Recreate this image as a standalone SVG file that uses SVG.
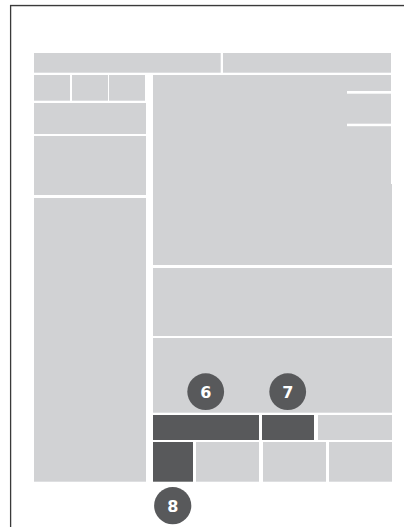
<svg xmlns="http://www.w3.org/2000/svg" width="404" height="527" viewBox="0 0 404 527">
<style>
.b{fill:#d1d2d4}
.d{fill:#58595b}
.c{fill:#58595b}
.t{fill:#ffffff;font-family:"DejaVu Sans","Liberation Sans",sans-serif;font-weight:bold;font-size:16px;text-anchor:middle}
</style>
<rect width="404" height="527" fill="#ffffff"/>
<g id="frame">
<line x1="10" y1="4.5" x2="404" y2="4.5" stroke="#e2e2e2" stroke-width="1"/>
<path d="M10.6,527 V5.6 H404" fill="none" stroke="#3a3a3a" stroke-width="1.3"/>
</g>
<g id="top-left"><rect class="b" x="34" y="53" width="186.7" height="19.7"/></g>
<g id="top-right"><rect class="b" x="223" y="53" width="168" height="19.7"/></g>
<g id="small-1"><rect class="b" x="34" y="75" width="36" height="25.7"/></g>
<g id="small-2"><rect class="b" x="72" y="75" width="36" height="25.7"/></g>
<g id="small-3"><rect class="b" x="109" y="75" width="36" height="25.7"/></g>
<g id="left-1"><rect class="b" x="34" y="103" width="112" height="31"/></g>
<g id="left-2"><rect class="b" x="34" y="136" width="112" height="59"/></g>
<g id="left-3"><rect class="b" x="34" y="198" width="112" height="283.7"/></g>
<g id="main">
<rect class="b" x="153" y="75" width="238" height="190"/>
<rect class="b" x="390" y="184" width="2" height="81"/>
<rect fill="#ffffff" x="347" y="91" width="44" height="2.7"/>
<rect fill="#ffffff" x="347" y="123.7" width="44" height="2.5"/>
</g>
<g id="right-2"><rect class="b" x="153" y="268" width="239" height="68"/></g>
<g id="right-3"><rect class="b" x="153" y="338" width="239" height="74.7"/></g>
<g id="bar-6"><rect class="d" x="153" y="415" width="106" height="25"/></g>
<g id="bar-7"><rect class="d" x="262" y="415" width="52" height="25"/></g>
<g id="bar-light"><rect class="b" x="318" y="415" width="74" height="25"/></g>
<g id="cell-8"><rect class="d" x="153" y="442" width="40" height="39.7"/></g>
<g id="cell-2"><rect class="b" x="196" y="442" width="63" height="39.7"/></g>
<g id="cell-3"><rect class="b" x="263" y="442" width="63" height="39.7"/></g>
<g id="cell-4"><rect class="b" x="329" y="442" width="63" height="39.7"/></g>
<g id="badge-6"><circle class="c" cx="205.7" cy="391.7" r="18.4"/><text class="t" x="205.7" y="397.5">6</text></g>
<g id="badge-7"><circle class="c" cx="287.7" cy="391.7" r="18.4"/><text class="t" x="287.7" y="397.5">7</text></g>
<g id="badge-8"><circle class="c" cx="172.7" cy="505.7" r="18.6"/><text class="t" x="172.7" y="511.5">8</text></g>
<g id="connectors"></g>
</svg>
